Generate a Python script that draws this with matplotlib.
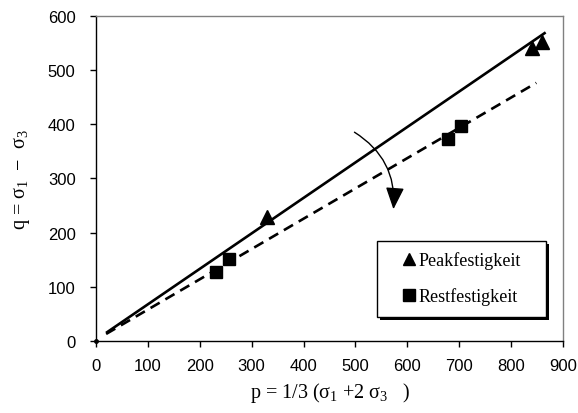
import matplotlib
matplotlib.use('Agg')
import matplotlib.pyplot as plt
from matplotlib.patches import FancyArrowPatch, Rectangle
from matplotlib.lines import Line2D

# peak and residual strength test points (p, q)
PEAK_P = [330, 840, 859]
PEAK_Q = [228, 540, 551]
REST_P = [231, 257, 679, 704]
REST_Q = [128, 152, 373, 396]

# fitted failure lines
PEAK_LINE_P = [20, 866]
PEAK_LINE_Q = [15, 569]
REST_LINE_P = [20, 848]
REST_LINE_Q = [13, 476]

# curved arrow: peak -> residual
ARROW_FROM = (498, 385)
ARROW_TO = (573, 243)

XTICKS = [0, 100, 200, 300, 400, 500, 600, 700, 800, 900]
YTICKS = [0, 100, 200, 300, 400, 500, 600]

plt.rcParams['mathtext.fontset'] = 'custom'
plt.rcParams['mathtext.rm'] = 'Liberation Serif'
plt.rcParams['mathtext.it'] = 'Liberation Serif'

fig = plt.figure(figsize=(5.78, 4.14), dpi=100)
ax = fig.add_axes([0.1656, 0.1739, 0.809, 0.786])

ax.plot(PEAK_LINE_P, PEAK_LINE_Q, color='black', lw=1.9, solid_capstyle='butt')
ax.plot(REST_LINE_P, REST_LINE_Q, color='black', lw=1.9, dashes=(4, 2.5))
ax.plot([0], [0], 'o', color='black', ms=2.5, clip_on=False)

ax.plot(PEAK_P, PEAK_Q, '^', color='black', ms=10, ls='none', clip_on=False)
ax.plot(REST_P, REST_Q, 's', color='black', ms=8.5, ls='none')

arrow = FancyArrowPatch(ARROW_FROM, ARROW_TO, connectionstyle='arc3,rad=-0.3',
                        arrowstyle='-|>,head_length=0.9,head_width=0.38',
                        mutation_scale=15, color='black', lw=1.0,
                        shrinkA=0, shrinkB=0)
ax.add_patch(arrow)

ax.set_xlim(0, 900)
ax.set_ylim(0, 600)
ax.set_xticks(XTICKS)
ax.set_yticks(YTICKS)
for lab in ax.get_xticklabels() + ax.get_yticklabels():
    lab.set_fontfamily('Liberation Sans')
    lab.set_fontsize(12)
ax.tick_params(direction='out', length=4, width=1, color='black')
ax.tick_params(axis='x', pad=8)
ax.tick_params(axis='y', pad=10.5)

for side in ['left', 'bottom']:
    ax.spines[side].set_color('black')
    ax.spines[side].set_linewidth(1.0)
for side in ['top', 'right']:
    ax.spines[side].set_color('#808080')
    ax.spines[side].set_linewidth(1.0)

ax.set_xlabel(r'p = 1/3 ($\sigma_1$ +2 $\sigma_3$   )', fontfamily='Liberation Serif',
              fontsize=14.5, labelpad=5.5)
ax.set_ylabel(r'q = $\sigma_1$  $-$  $\sigma_3$', fontfamily='Liberation Serif',
              fontsize=14.5, labelpad=11)

# legend box with a hard drop shadow
box_x, box_y, box_w, box_h = 0.602, 0.074, 0.362, 0.233
ax.add_patch(Rectangle((box_x + 0.0064, box_y - 0.0092), box_w, box_h,
                       transform=ax.transAxes, facecolor='black',
                       edgecolor='none', zorder=5))
ax.add_patch(Rectangle((box_x, box_y), box_w, box_h, transform=ax.transAxes,
                       facecolor='white', edgecolor='black', lw=1.0, zorder=6))

handles = [Line2D([], [], marker='^', color='black', ls='none', ms=9),
           Line2D([], [], marker='s', color='black', ls='none', ms=9)]
leg = ax.legend(handles, ['Peakfestigkeit', 'Restfestigkeit'],
                loc='center', bbox_to_anchor=(0.783, 0.193),
                prop={'family': 'Liberation Serif', 'size': 13},
                frameon=False, handlelength=0.7, handletextpad=0.15,
                labelspacing=1.0, borderpad=0.2)
leg.set_zorder(7)

fig.savefig('out.png', dpi=100)
